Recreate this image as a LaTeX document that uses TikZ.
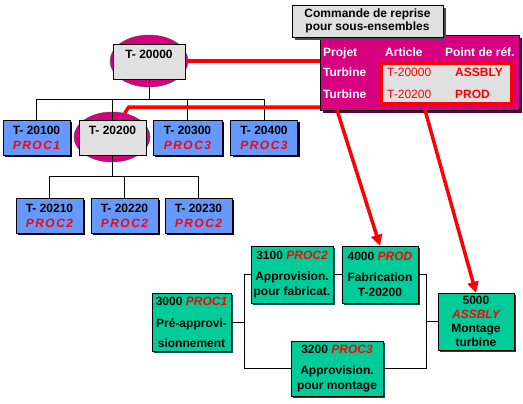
\documentclass[tikz,border=0pt]{standalone}
\usepackage{fontspec}
\setmainfont{Liberation Sans}
\newfontfamily\procfont[LetterSpace=12]{Liberation Sans}
\usetikzlibrary{arrows.meta,positioning,calc,shapes.geometric,shadows}

\definecolor{partblue}{RGB}{102,153,255}
\definecolor{opgreen}{RGB}{0,204,153}
\definecolor{hubpink}{RGB}{214,0,128}
\definecolor{boxgray}{RGB}{224,224,224}

\newcommand{\rc}[1]{{\procfont\bfseries\itshape\color{red}#1}}
\newcommand{\rg}[1]{{\bfseries\itshape\color{red}#1}}

\begin{document}
\begin{tikzpicture}[x=1pt,y=-1pt,
  font=\fontsize{12}{15}\selectfont\bfseries,
  item/.style={rectangle,draw=black,inner sep=1pt,align=center,minimum width=67pt,minimum height=35pt},
  part/.style={item,fill=partblue,drop shadow={shadow xshift=2pt,shadow yshift=-2pt,fill=black,opacity=1}},
  sel/.style={item,fill=boxgray},
  hub/.style={ellipse,draw=black!70,fill=hubpink,inner sep=0pt},
  op/.style={rectangle,draw=black,fill=opgreen,inner sep=1pt,align=center,
    drop shadow={shadow xshift=2pt,shadow yshift=-2pt,fill=teal!60!black,opacity=1}},
  title/.style={rectangle,draw=black,fill=boxgray,inner sep=1pt,align=center,
    font=\fontsize{12}{12.5}\selectfont\bfseries,
    drop shadow={shadow xshift=3pt,shadow yshift=-3pt,fill=black!70,opacity=1}},
  cell/.style={text=white,anchor=base west,inner sep=0pt},
  link/.style={draw=black,line width=0.8pt},
  refline/.style={draw=red,line width=3.5pt},
  refarrow/.style={refline,-{Triangle[length=11pt,width=11pt]}}]
\useasboundingbox (0,0) rectangle (523,404);

% nomenclature
\node[hub,minimum width=78pt,minimum height=52pt] (e0) at (149,61) {};
\node[sel,minimum width=72pt] (t20000) at (149,61.5) {T- 20000\\\phantom{P}};

\node[hub,minimum width=76pt,minimum height=50pt] (e2) at (112,137) {};
\node[part] (t20100) at (36.5,137.5) {T- 20100\\\rc{PROC1}};
\node[sel] (t20200) at (112.5,137.5) {T- 20200\\\phantom{P}};
\node[part,minimum width=69pt] (t20300) at (187.5,137.5) {T- 20300\\\rc{PROC3}};
\node[part] (t20400) at (264,137.5) {T- 20400\\\rc{PROC3}};

\node[part] (t20210) at (49.5,215.5) {T- 20210\\\rc{PROC2}};
\node[part] (t20220) at (124.5,215.5) {T- 20220\\\rc{PROC2}};
\node[part] (t20230) at (198.5,215.5) {T- 20230\\\rc{PROC2}};

\draw[link] (t20000.south) -- ++(0,21);
\draw[link] (t20100.north) -- ++(0,-20) -| (t20400.north);
\draw[link] (t20200.north) -- ++(0,-20);
\draw[link] (t20300.north) -- ++(0,-20);
\draw[link] (t20200.south) -- ++(0,22);
\draw[link] (t20210.north) -- ++(0,-21) -| (t20230.north);
\draw[link] (t20220.north) -- ++(0,-21);

% table des commandes
\node[rectangle,draw=black,fill=hubpink,minimum width=199pt,minimum height=75pt,
  drop shadow={shadow xshift=3pt,shadow yshift=-3pt,fill=hubpink!45!black,opacity=1}] (tbl) at (419.5,72.5) {};
\node[title,minimum width=151pt,minimum height=32pt] (head) at (367.5,21) {Commande de reprise\\pour sous-ensembles};
\node[rectangle,draw=red,line width=3pt,fill=boxgray,minimum width=130pt,minimum height=40pt] (refs) at (446.5,83.5) {};

\node[cell] (hproj) at (323,57) {Projet};
\node[cell] (hart) at (385,57) {Article};
\node[cell] (hpt) at (445,57) {Point de réf.};
\node[cell] (proj1) at (323,77) {Turbine};
\node[cell] (proj2) at (323,99) {Turbine};
\node[cell,text=red,font=\fontsize{12}{15}\selectfont] (art1) at (387,77) {T-20000};
\node[cell,text=red,font=\fontsize{12}{15}\selectfont] (art2) at (387,99) {T-20200};
\node[cell,text=red] (pt1) at (455,77) {ASSBLY};
\node[cell,text=red] (pt2) at (455,99) {PROD};

\draw[refline] (e0.east) -- (e0.east -| tbl.west);
\coordinate (kink) at ($(e2.62)+(4,-6)$);
\draw[refline] (e2.62) -- (kink) -- (kink -| tbl.west);

% gamme
\node[op,minimum width=79pt,minimum height=58pt] (p3000) at (191.5,322) {3000 \rg{PROC1}\\[7pt]Pré-approvi-\\[5pt]sionnement};
\node[op,minimum width=82pt,minimum height=57pt] (p3100) at (292,274.5) {3100 \rg{PROC2}\\[6pt]Approvision.\\pour fabricat.};
\node[op,minimum width=76pt,minimum height=57pt] (p4000) at (380,274.5) {4000 \rg{PROD}\\[6pt]Fabrication\\T-20200};
\node[op,minimum width=76pt,minimum height=57pt,font=\fontsize{12}{14}\selectfont\bfseries] (p5000) at (476,321.5) {5000\\\rg{ASSBLY}\\Montage\\turbine};
\node[op,minimum width=92pt,minimum height=55pt] (p3200) at (337,368.5) {3200 \rg{PROC3}\\[6pt]Approvision.\\pour montage};

\draw[link] (p3100.west) -- ++(-6,0) coordinate (jl) |- (p3200.west);
\draw[link] (p3000.east) -- (p3000.east -| jl);
\draw[link] (p3100.east) -- (p4000.west);
\draw[link] (p4000.east) -- ++(8,0) coordinate (jr) |- (p3200.east);
\draw[link] (p5000.west) -- (p5000.west -| jr);

\coordinate (src1) at (337,110);
\coordinate (src2) at (425,110);
\draw[refarrow] (src1) -- (p4000.north);
\draw[refarrow] (src2) -- (p5000.north);
\end{tikzpicture}
\end{document}
